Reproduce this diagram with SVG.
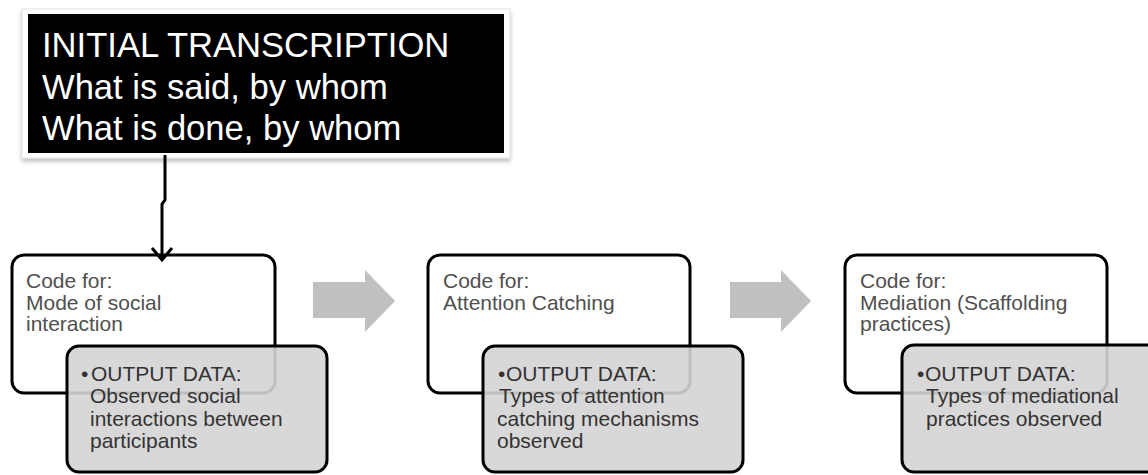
<svg xmlns="http://www.w3.org/2000/svg" width="1148" height="475" viewBox="0 0 1148 475">
  <defs>
    <style>
      .title { font-family: "Liberation Sans", Arial, sans-serif; font-size: 34.6px; fill: #ffffff; }
      .code { font-family: "Liberation Sans", Arial, sans-serif; font-size: 21px; fill: #505050; }
      .out { font-family: "Liberation Sans", Arial, sans-serif; font-size: 21px; fill: #333333; }
      .wbox { fill: #ffffff; stroke: #000000; stroke-width: 3; }
      .gbox { fill: #d4d4d4; fill-opacity: 0.9; stroke: #000000; stroke-width: 3; }
      .blk { fill: #c0c0c0; }
      .conn { fill: none; stroke: #000000; stroke-width: 3; }
    </style>
    <filter id="sh" x="-5%" y="-5%" width="110%" height="115%">
      <feDropShadow dx="0" dy="3" stdDeviation="2" flood-color="#000" flood-opacity="0.25"/>
    </filter>
  </defs>
  <rect width="1148" height="475" fill="#ffffff"/>

  <g id="transcription">
    <rect x="22" y="9" width="488" height="149" fill="#ffffff" stroke="#e0e0e0" stroke-width="1" filter="url(#sh)"/>
    <rect x="28" y="14" width="476" height="139" fill="#000000"/>
    <text class="title" x="42" y="57">INITIAL TRANSCRIPTION</text>
    <text class="title" x="42" y="99">What is said, by whom</text>
    <text class="title" x="42" y="140">What is done, by whom</text>
  </g>

  <g id="code-social">
    <rect class="wbox" x="12" y="255" width="263" height="138" rx="12"/>
    <text class="code" x="26" y="288">Code for:</text>
    <text class="code" x="26" y="310">Mode of social</text>
    <text class="code" x="26" y="331">interaction</text>
  </g>
  <g id="output-social">
    <rect class="gbox" x="67" y="346" width="260" height="126" rx="12"/>
    <text class="out" x="81" y="381">•</text>
    <text class="out" x="91" y="381">OUTPUT DATA:</text>
    <text class="out" x="90" y="403">Observed social</text>
    <text class="out" x="90" y="426">interactions between</text>
    <text class="out" x="90" y="448">participants</text>
  </g>

  <g id="code-attention">
    <rect class="wbox" x="428" y="255" width="262" height="138" rx="12"/>
    <text class="code" x="443" y="288">Code for:</text>
    <text class="code" x="443" y="310">Attention Catching</text>
  </g>
  <g id="output-attention">
    <rect class="gbox" x="483" y="346" width="260" height="126" rx="12"/>
    <text class="out" x="498" y="381">•</text>
    <text class="out" x="506" y="381">OUTPUT DATA:</text>
    <text class="out" x="499" y="403">Types of attention</text>
    <text class="out" x="497" y="426">catching mechanisms</text>
    <text class="out" x="497" y="448">observed</text>
  </g>

  <g id="code-mediation">
    <rect class="wbox" x="845" y="255" width="262" height="138" rx="12"/>
    <text class="code" x="860" y="288">Code for:</text>
    <text class="code" x="860" y="310">Mediation (Scaffolding</text>
    <text class="code" x="860" y="331">practices)</text>
  </g>
  <g id="output-mediation">
    <rect class="gbox" x="902" y="345" width="262" height="127" rx="12"/>
    <text class="out" x="917" y="381">•</text>
    <text class="out" x="925" y="381">OUTPUT DATA:</text>
    <text class="out" x="926" y="403">Types of mediational</text>
    <text class="out" x="926" y="426">practices observed</text>
  </g>

  <g id="connectors">
    <path class="conn" d="M165 155 L165 200 L162 204 L162 260"/>
    <path class="conn" d="M152 248 L162 260 L172 248"/>
    <polygon class="blk" points="313,282 365,282 365,270 395,301 365,332 365,318 313,318"/>
    <polygon class="blk" points="730,282 781,282 781,270 811,301 781,332 781,318 730,318"/>
  </g>
</svg>
